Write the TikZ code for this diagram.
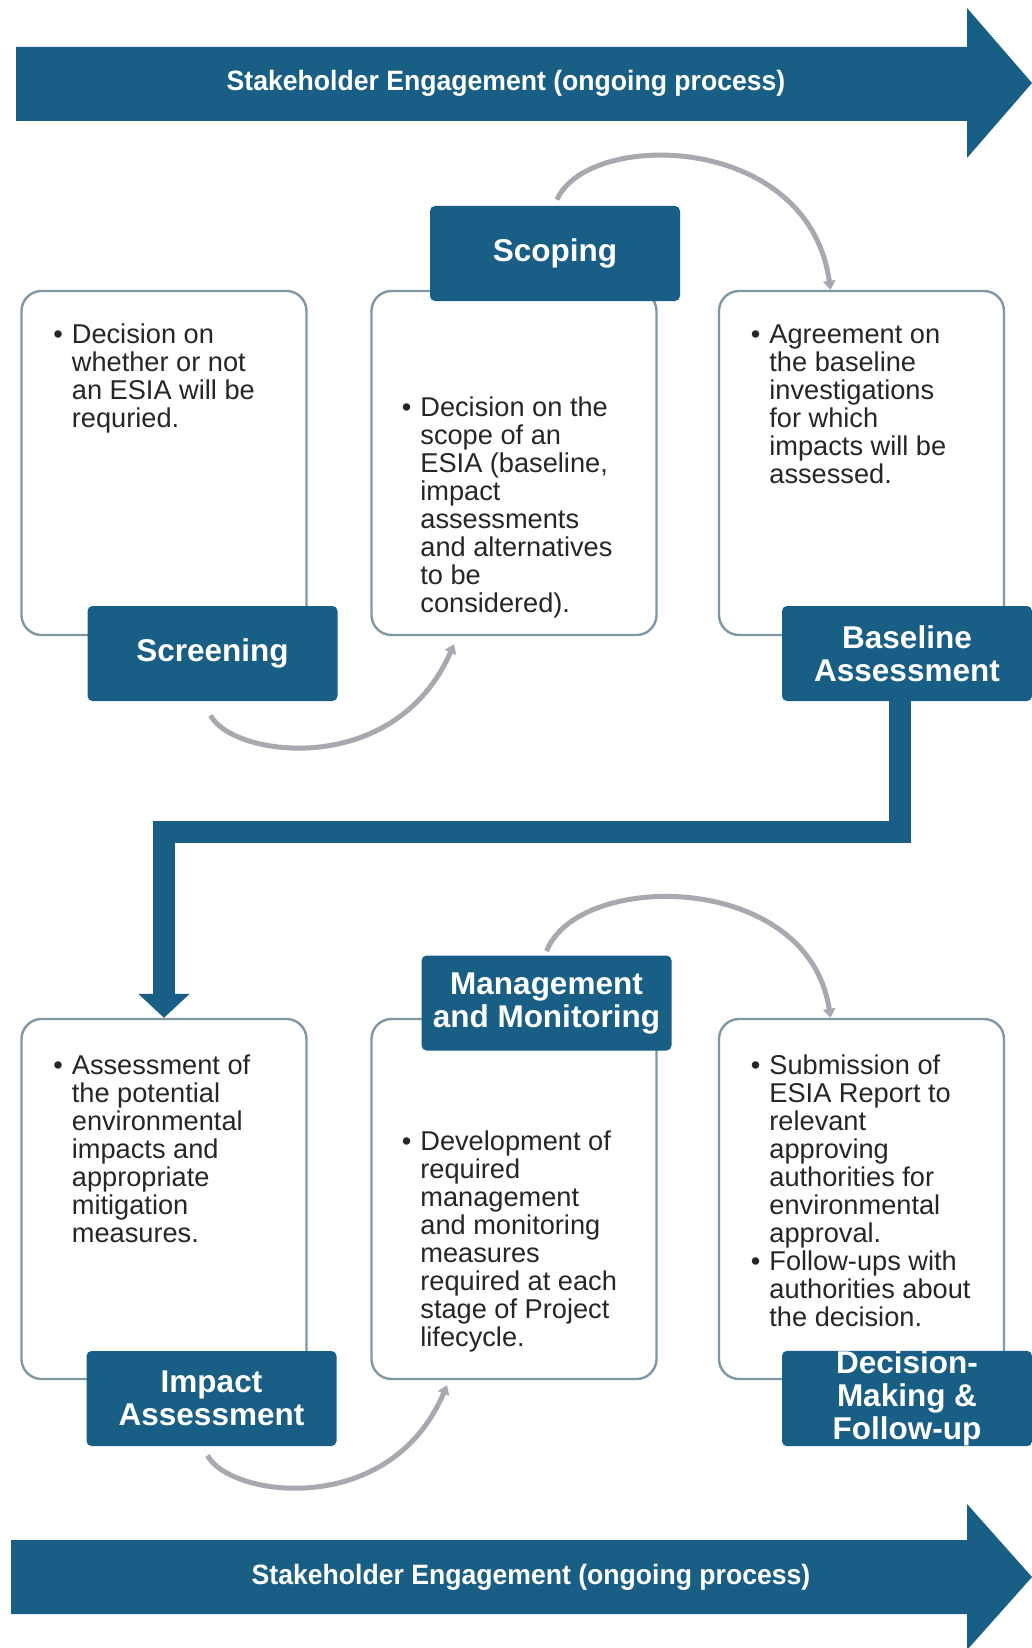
\documentclass[tikz,border=0pt]{standalone}
\usepackage{fontspec}
\setmainfont{Liberation Sans}
\newfontfamily\bandfont[FakeStretch=0.95]{Liberation Sans}
\usetikzlibrary{arrows.meta,calc}

\definecolor{esiablue}{RGB}{25,94,132}
\definecolor{boxline}{RGB}{128,152,166}
\definecolor{arcgrey}{RGB}{168,168,176}
\definecolor{textgrey}{RGB}{38,38,38}

\newcommand\itembullet{\llap{\textbullet\hspace{4.5pt}}}

\begin{document}
\begin{tikzpicture}[x=0.5pt,y=-0.5pt,
  band/.style={fill=esiablue},
  bandtext/.style={text=white,inner sep=0pt,font=\bandfont\bfseries\fontsize{14}{16}\selectfont},
  content/.style={draw=boxline,line width=1.2pt,rounded corners=10pt,fill=white,
    minimum width=142.5pt,inner sep=0pt},
  rowone/.style={minimum height=172pt},
  rowtwo/.style={minimum height=180pt},
  stage/.style={fill=esiablue,rounded corners=2.5pt,minimum width=125pt,minimum height=47.5pt,
    inner sep=0pt,text=white,align=center,font=\bfseries\fontsize{15.75}{16.5}\selectfont},
  bullets/.style={anchor=base west,inner sep=0pt,text=textgrey,font=\fontsize{13.6}{14}\selectfont},
  loopline/.style={draw=arcgrey,line width=2.5pt,-{Triangle[length=4.5pt,width=6pt]}},
  flow/.style={draw=esiablue,line width=11pt,line join=miter,-{Triangle[length=12pt,width=25pt]}}
]
\clip (0,0) rectangle (1032,1648);
\fill[white] (0,0) rectangle (1032,1648);

% ongoing stakeholder engagement bands
\fill[band] (16,47) -- (967,47) -- (967,8) -- (1032,83) -- (967,158) -- (967,121) -- (16,121) -- cycle;
\node[bandtext] (bandtop) at (506,83) {Stakeholder Engagement (ongoing process)};
\fill[band] (11,1540) -- (967,1540) -- (967,1504) -- (1032,1577) -- (967,1650) -- (967,1614) -- (11,1614) -- cycle;
\node[bandtext] (bandbottom) at (531,1577) {Stakeholder Engagement (ongoing process)};

% content boxes
\node[content,rowone] (box1) at (164,463) {};
\node[content,rowone] (box2) at (514,463) {};
\node[content,rowone] (box3) at (861.5,463) {};
\node[content,rowtwo] (box4) at (164,1199) {};
\node[content,rowtwo] (box5) at (514,1199) {};
\node[content,rowtwo] (box6) at (861.5,1199) {};

% flow from the first row to the second
\coordinate (turn) at (900,832);
\draw[flow] (900,701) -- (turn) -| (box4.north);

% stage labels
\node[stage] (scr) at (212.5,653.5) {Screening};
\node[stage] (sco) at (555,253.5) {Scoping};
\node[stage] (base) at (907,653.5) {Baseline\\Assessment};
\node[stage] (imp) at (211.5,1398.5) {Impact\\Assessment};
\node[stage] (mgmt) at (546.5,1003) {Management\\and Monitoring};
\node[stage] (dec) at (907,1398.5) {Decision-\\Making \&\\Follow-up};

% cycle arcs between stages
\draw[loopline] ($(scr.south)+(-2,14)$) .. controls +(22,42) and +(-59,135) .. ($(box2.south)+(-60,8)$);
\draw[loopline] ($(sco.north)+(2,-6)$) .. controls +(31,-70) and +(-22,-158) .. ($(box3.north)+(-31,0)$);
\draw[loopline] ($(imp.south)+(-4,9)$) .. controls +(22,42) and +(-57,134) .. ($(box5.south)+(-67,5)$);
\draw[loopline] ($(mgmt.north)+(0,-4)$) .. controls +(32,-81) and +(-22,-147) .. ($(box6.north)+(-31,0)$);

% box texts
\node[bullets] (t1) at (71.5,343) {\begin{tabular}[t]{@{}l@{}}\itembullet Decision on\\whether or not\\an ESIA will be\\requried.\end{tabular}};
\node[bullets] (t2) at (420,416) {\begin{tabular}[t]{@{}l@{}}\itembullet Decision on the\\scope of an\\ESIA (baseline,\\impact\\assessments\\and alternatives\\to be\\considered).\end{tabular}};
\node[bullets] (t3) at (769,343) {\begin{tabular}[t]{@{}l@{}}\itembullet Agreement on\\the baseline\\investigations\\for which\\impacts will be\\assessed.\end{tabular}};
\node[bullets] (t4) at (71.5,1074) {\begin{tabular}[t]{@{}l@{}}\itembullet Assessment of\\the potential\\environmental\\impacts and\\appropriate\\mitigation\\measures.\end{tabular}};
\node[bullets] (t5) at (420,1150) {\begin{tabular}[t]{@{}l@{}}\itembullet Development of\\required\\management\\and monitoring\\measures\\required at each\\stage of Project\\lifecycle.\end{tabular}};
\node[bullets] (t6) at (769,1074) {\begin{tabular}[t]{@{}l@{}}\itembullet Submission of\\ESIA Report to\\relevant\\approving\\authorities for\\environmental\\approval.\\\itembullet Follow-ups with\\authorities about\\the decision.\end{tabular}};
\end{tikzpicture}
\end{document}
